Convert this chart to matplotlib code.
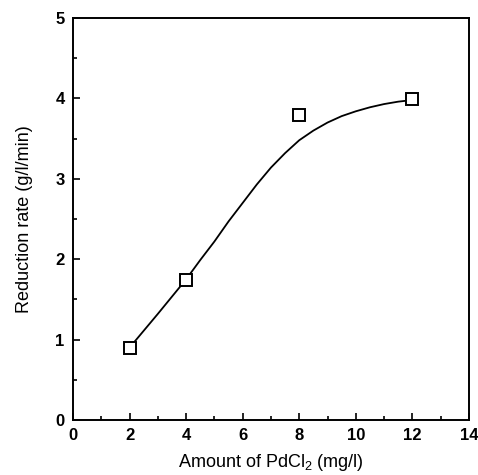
from matplotlib import pyplot as plt
from matplotlib.ticker import MultipleLocator

# measured points
pdcl2 = [2, 4, 8, 12]
rate = [0.90, 1.74, 3.80, 3.99]

# fitted curve
curve_x = [2, 2.5, 3, 3.5, 4, 4.5, 5, 5.5, 6, 6.5, 7, 7.5, 8, 8.5, 9, 9.5, 10, 10.5, 11, 11.5, 12]
curve_y = [0.90, 1.11, 1.32, 1.535, 1.75, 1.99, 2.22, 2.47, 2.70, 2.93, 3.14, 3.32, 3.48, 3.60,
           3.70, 3.78, 3.84, 3.89, 3.93, 3.96, 3.98]

x_ticks = [0, 2, 4, 6, 8, 10, 12, 14]
y_ticks = [0, 1, 2, 3, 4, 5]

plt.rcParams['font.family'] = ['Liberation Sans', 'DejaVu Sans']
plt.rcParams['mathtext.fontset'] = 'custom'
plt.rcParams['mathtext.rm'] = 'Liberation Sans'

fig = plt.figure(figsize=(4.78, 4.75), dpi=100)
ax = fig.add_axes([0.1527, 0.1158, 0.8283, 0.8462])

ax.plot(curve_x, curve_y, color='black', lw=1.3, zorder=2)
ax.plot(pdcl2, rate, linestyle='none', marker='s', markersize=9,
        markerfacecolor='white', markeredgecolor='black', markeredgewidth=1.4, zorder=3)

ax.set_xlim(0, 14)
ax.set_ylim(0, 5)
ax.set_xticks(x_ticks)
ax.set_yticks(y_ticks)
ax.xaxis.set_minor_locator(MultipleLocator(1))
ax.yaxis.set_minor_locator(MultipleLocator(0.5))
ax.tick_params(which='both', direction='in', top=False, right=False, width=1.2)
ax.tick_params(which='major', length=5, labelsize=12, pad=6)
ax.tick_params(which='minor', length=3)
for lab in ax.get_xticklabels() + ax.get_yticklabels():
    lab.set_fontweight('bold')
for s in ax.spines.values():
    s.set_linewidth(1.4)

ax.set_xlabel('Amount of PdCl$_2$ (mg/l)', fontsize=13, labelpad=6)
ax.set_ylabel('Reduction rate (g/l/min)', fontsize=13, labelpad=16)

fig.savefig('out.png', dpi=100)
